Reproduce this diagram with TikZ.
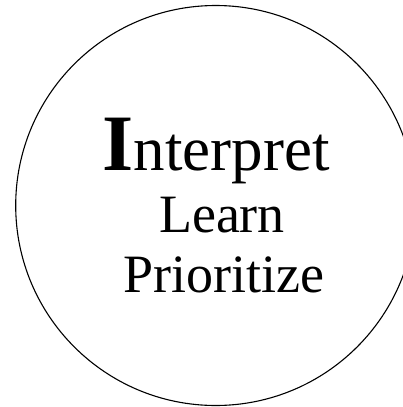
\documentclass[tikz,border=0pt]{standalone}
\usepackage{fontspec}
\setmainfont{Liberation Serif}
\usepackage{tikz}
\tikzset{
	ring/.style={draw,circle,line width=1.1pt,minimum size=400pt,inner sep=0pt},
	word/.style={anchor=base,inner sep=0pt}
}

\begin{document}
\begin{tikzpicture}[x=1pt,y=-1pt]
\useasboundingbox (0,0) rectangle (403,407);
\clip (0,0) rectangle (403,407);
\node[ring] (circ) at (215.7,205.5) {};
\node[word] (interp) at (216,170) {\fontsize{80}{90}\selectfont\textbf{I}\fontsize{63}{70}\selectfont nterpret};
\node[word] (learn) at (222,232) {\fontsize{54}{60}\selectfont Learn};
\node[word] (prior) at (224,292) {\fontsize{54}{60}\selectfont Prioritize};
\end{tikzpicture}
\end{document}
